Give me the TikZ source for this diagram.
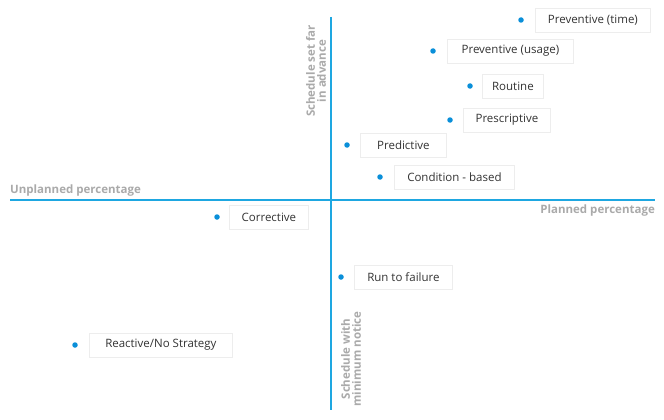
\documentclass[tikz,border=0pt]{standalone}
\usepackage{fontspec}
\setmainfont{Open Sans}
\definecolor{axis}{HTML}{1EA7E1}
\definecolor{dotc}{HTML}{0A8FD9}
\definecolor{lab}{HTML}{AAAAAA}
\begin{document}
\begin{tikzpicture}[x=1pt,y=-1pt,
  box/.style={fill=white,draw=black!7,line width=0.8pt,minimum height=24pt,inner xsep=0pt,font=\fontsize{11.5}{13}\selectfont,text=black!80},
  dot/.style={circle,fill=dotc,inner sep=0pt,minimum size=5.5pt},
  ax/.style={draw=axis,line width=1.6pt},
  alab/.style={text=lab,font=\bfseries\fontsize{11.5}{12}\selectfont}]
\useasboundingbox (0,0) rectangle (664,420);
\fill[white] (0,0) rectangle (664,420);
\coordinate (vt) at (331,17); \coordinate (vb) at (331,410);
\coordinate (hl) at (10,200); \coordinate (hr) at (655,200);
\draw[ax] (vt) -- (vb);
\draw[ax] (hl) -- (hr);
\node[alab,anchor=south west,inner sep=0pt] (ul) at (10,196) {Unplanned percentage};
\node[alab,anchor=north east,inner sep=0pt] (pl) at (655,205) {Planned percentage};
\node[alab,rotate=90,align=center,inner sep=0pt,font=\bfseries\fontsize{11.5}{11}\selectfont] (sa) at (316,71) {Schedule set far\\in advance};
\node[alab,rotate=90,align=center,inner sep=0pt,font=\bfseries\fontsize{11.5}{11}\selectfont] (sm) at (351,359) {Schedule with\\minimum notice};
\foreach \n/\dx/\dy/\bx/\w/\t in {a/521/20/535/115/{Preventive (time)},b/433/51/447/126/{Preventive (usage)},c/470/86/482/61/{Routine},d/450/120/463/87/{Prescriptive},e/347/145/360/86/{Predictive},f/380/177/394/120/{Condition - based},g/217/217/229/79/{Corrective},h/341/277/354/98/{Run to failure},i/75/345/89/143/{Reactive/No Strategy}}{
  \node[dot] (d\n) at (\dx,\dy) {};
  \node[box,anchor=west,minimum width=\w pt] (b\n) at (\bx,\dy) {\t};
}
\end{tikzpicture}
\end{document}
